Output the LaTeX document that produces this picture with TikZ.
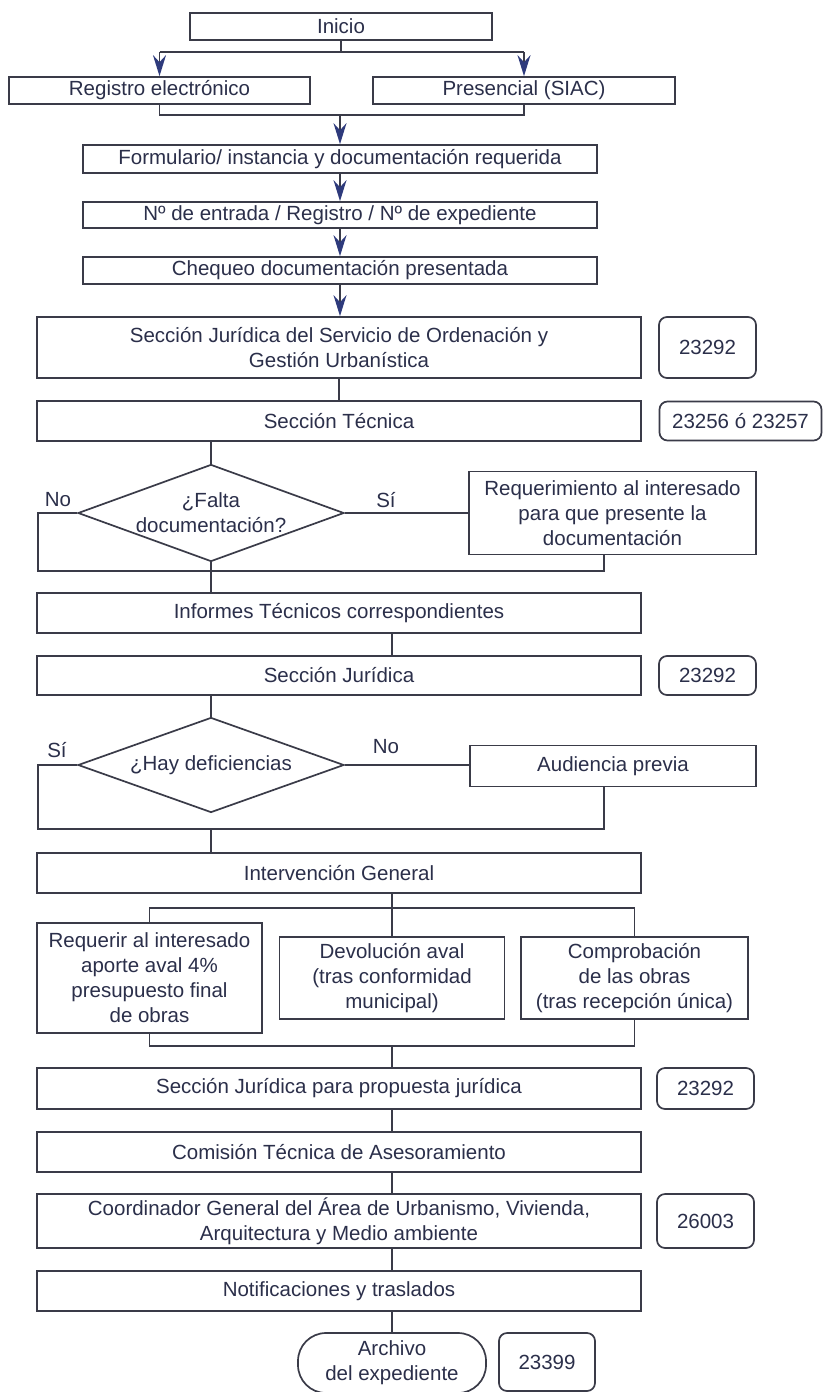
\documentclass[tikz,border=0pt]{standalone}
\usepackage{fontspec}
\setmainfont{Liberation Sans}
\usetikzlibrary{shapes.geometric,arrows.meta}

\definecolor{ink}{HTML}{2B2F4A}
\definecolor{rule}{HTML}{3A3B48}
\definecolor{tipblue}{HTML}{2E3A7C}

\tikzset{
  paso/.style={draw=rule,line width=1.7pt,fill=white,text=ink,align=center,inner sep=0pt},
  clave/.style={paso,rounded corners=8pt},
  fin/.style={paso,rounded corners=28pt},
  pregunta/.style={diamond,draw=rule,line width=1.7pt,fill=white,text=ink,align=center,inner sep=0pt,aspect=2.7},
  rama/.style={text=ink,inner sep=0pt},
  flecha/.style={-{Stealth[length=21pt,width=13pt,inset=7pt,color=tipblue]}}
}

\begin{document}
\begin{tikzpicture}[x=1pt,y=-1pt,line width=1.7pt,draw=rule,
  every node/.append style={font=\fontsize{20.5}{25}\selectfont}]
\useasboundingbox[fill=white] (0,0) rectangle (823,1392);

\node[paso,minimum width=302,minimum height=27] (inicio) at (341,26.5) {Inicio};
\node[paso,minimum width=301,minimum height=27] (regel) at (159.5,90.5) {Registro electrónico};
\node[paso,minimum width=302,minimum height=27] (pres) at (524,90.5) {Presencial (SIAC)};
\node[paso,minimum width=514,minimum height=28] (form) at (340,159) {Formulario/ instancia y documentación requerida};
\node[paso,minimum width=514,minimum height=26] (entrada) at (340,215) {Nº de entrada / Registro / Nº de expediente};
\node[paso,minimum width=514,minimum height=27] (chequeo) at (340,270.5) {Chequeo documentación presentada};

\node[paso,minimum width=604,minimum height=61] (sjserv) at (339,347.5) {Sección Jurídica del Servicio de Ordenación y\\Gestión Urbanística};
\node[clave,minimum width=97,minimum height=61] (n23292a) at (707.5,347.5) {23292};
\node[paso,minimum width=604,minimum height=40] (sectec) at (339,421) {Sección Técnica};
\node[clave,minimum width=162,minimum height=39] (n23256) at (740.5,421) {23256 ó 23257};

\node[pregunta,minimum width=266,minimum height=97] (dia1) at (211,513) {¿Falta\\documentación?};
\node[paso,minimum width=287,minimum height=83] (req) at (612.5,513) {Requerimiento al interesado\\para que presente la\\documentación};
\node[rama] (no1) at (58,500) {No};
\node[rama] (si1) at (386,500) {Sí};

\node[paso,minimum width=604,minimum height=40] (informes) at (339,613) {Informes Técnicos correspondientes};
\node[paso,minimum width=604,minimum height=39] (sj2) at (339,675.5) {Sección Jurídica};
\node[clave,minimum width=97,minimum height=39] (n23292b) at (707.5,675.5) {23292};

\node[pregunta,minimum width=266,minimum height=95] (dia2) at (211,765) {¿Hay deficiencias};
\node[paso,minimum width=286,minimum height=41] (aud) at (613,766) {Audiencia previa};
\node[rama] (si2) at (57,750) {Sí};
\node[rama] (no2) at (386,747) {No};

\node[paso,minimum width=604,minimum height=40] (interv) at (339,873) {Intervención General};
\node[paso,minimum width=225,minimum height=110] (aval) at (149.5,978) {Requerir al interesado\\aporte aval 4\%\\presupuesto final\\de obras};
\node[paso,minimum width=225,minimum height=82] (devol) at (392,978) {Devolución aval\\(tras conformidad\\municipal)};
\node[paso,minimum width=227,minimum height=82] (comp) at (634.5,978) {Comprobación\\de las obras\\(tras recepción única)};

\node[paso,minimum width=604,minimum height=41] (sjprop) at (339,1088.5) {Sección Jurídica para propuesta jurídica};
\node[clave,minimum width=97,minimum height=41] (n23292c) at (705.5,1088.5) {23292};
\node[paso,minimum width=604,minimum height=40] (comision) at (339,1152) {Comisión Técnica de Asesoramiento};
\node[paso,minimum width=604,minimum height=54] (coord) at (339,1221) {Coordinador General del Área de Urbanismo, Vivienda,\\Arquitectura y Medio ambiente};
\node[clave,minimum width=97,minimum height=54] (n26003) at (705.5,1221) {26003};
\node[paso,minimum width=604,minimum height=40] (notif) at (339,1291) {Notificaciones y traslados};
\node[fin,minimum width=188,minimum height=60] (archivo) at (392,1363) {Archivo\\del expediente};
\node[clave,minimum width=96,minimum height=58] (n23399) at (547,1362) {23399};

\coordinate (c1) at (0,52);
\coordinate (c2) at (0,115);
\coordinate (l1) at (38,571);
\coordinate (r1) at (604,571);
\coordinate (l2) at (38,829);
\coordinate (r2) at (604,829);
\coordinate (b1) at (0,908);
\coordinate (b2) at (0,1046);
\coordinate (eje) at (392,0);

\draw (inicio) -- (inicio |- c1);
\draw (regel |- c1) -- (pres |- c1);
\draw[flecha] (regel |- c1) -- (regel);
\draw[flecha] (pres |- c1) -- (pres);
\draw (regel) -- (regel |- c2) -| (pres);
\draw[flecha] (form |- c2) -- (form);
\draw[flecha] (form) -- (entrada);
\draw[flecha] (entrada) -- (chequeo);
\draw[flecha] (chequeo) -- (chequeo |- sjserv.north);
\draw (sjserv) -- (sectec);

\draw (dia1 |- sectec.south) -- (dia1.north);
\draw (dia1.east) -- (dia1.east -| req.west);
\draw (dia1.west) -| (l1) -- (r1) -- (r1 |- req.south);
\draw (dia1.south) -- (dia1 |- informes.north);
\draw (eje |- informes.south) -- (eje |- sj2.north);

\draw (dia2 |- sj2.south) -- (dia2.north);
\draw (dia2.east) -- (dia2.east -| aud.west);
\draw (dia2.west) -| (l2) -- (r2) -- (r2 |- aud.south);
\draw (dia2 |- l2) -- (dia2 |- interv.north);

\draw (eje |- interv.south) -- (eje |- b1);
\draw (aval) -- (aval |- b1) -- (comp |- b1) -- (comp);
\draw (eje |- b1) -- (devol);
\draw (aval) -- (aval |- b2) -- (comp |- b2) -- (comp);
\draw (eje |- b2) -- (eje |- sjprop.north);
\draw (eje |- sjprop.south) -- (eje |- comision.north);
\draw (eje |- comision.south) -- (eje |- coord.north);
\draw (eje |- coord.south) -- (eje |- notif.north);
\draw (eje |- notif.south) -- (archivo);
\end{tikzpicture}
\end{document}
